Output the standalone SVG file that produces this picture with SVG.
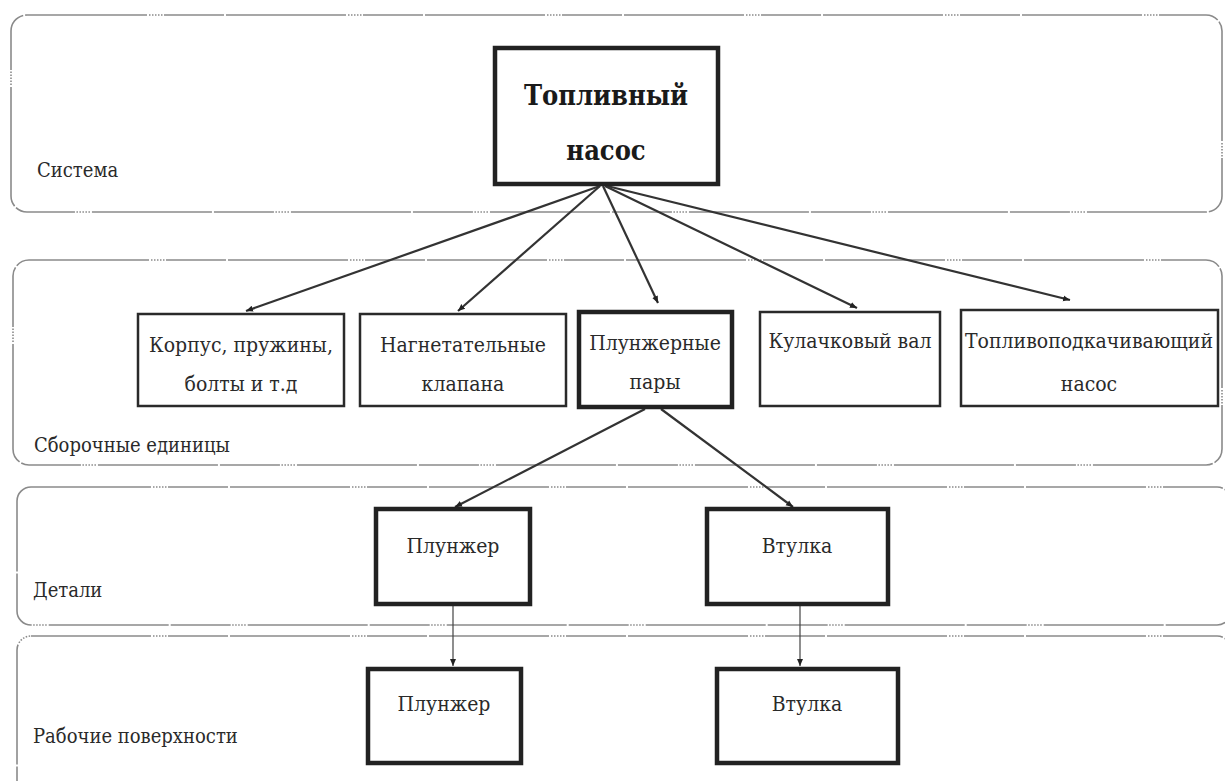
<svg xmlns="http://www.w3.org/2000/svg" width="1225" height="781" viewBox="0 0 1225 781">
<style>
.band{fill:none;stroke:#8a8a8a;stroke-width:1.6;stroke-dasharray:120 2 1.5 1.5 1.5 1.5 1.5 1.5 1.5 1.5 1.5 1.5 60 2}
.box{fill:#fff;stroke:#2a2a2a;stroke-width:2.5}
.thick{fill:#fff;stroke:#222;stroke-width:4.5}
.t{font-family:'DejaVu Serif Condensed','DejaVu Serif',serif;font-stretch:condensed;font-size:21px;fill:#2a2a2a;text-anchor:middle}
.lbl{font-family:'DejaVu Serif Condensed','DejaVu Serif',serif;font-stretch:condensed;font-size:20px;fill:#2a2a2a}
.big{font-family:'DejaVu Serif Condensed','DejaVu Serif',serif;font-stretch:condensed;font-size:27px;font-weight:bold;fill:#1a1a1a;text-anchor:middle}
.c{fill:none;stroke:#333;stroke-width:2.2}
.cs{fill:none;stroke:#444;stroke-width:1.2}
</style>
<defs>
<marker id="ah" markerWidth="8" markerHeight="8" refX="7" refY="4" orient="auto" markerUnits="userSpaceOnUse">
<path d="M0,1 L7,4 L0,7 Z" fill="#222"/>
</marker>
</defs>
<rect width="1225" height="781" fill="#fff"/>
<g id="bands">
<rect class="band" x="11" y="15" width="1211" height="197" rx="16"/>
<rect class="band" x="13" y="260" width="1209" height="205" rx="16"/>
<rect class="band" x="17" y="487" width="1214" height="138" rx="14"/>
<rect class="band" x="17" y="636" width="1214" height="160" rx="14"/>
<text class="lbl" x="37" y="177">Система</text>
<text class="lbl" x="34" y="452">Сборочные единицы</text>
<text class="lbl" x="33" y="597">Детали</text>
<text class="lbl" x="33" y="743">Рабочие  поверхности</text>
</g>
<g id="connectors">
<line class="c" x1="600" y1="186" x2="246" y2="311" marker-end="url(#ah)"/>
<line class="c" x1="600" y1="186" x2="458" y2="311" marker-end="url(#ah)"/>
<line class="c" x1="603" y1="186" x2="658" y2="303" marker-end="url(#ah)"/>
<line class="c" x1="605" y1="186" x2="857" y2="308" marker-end="url(#ah)"/>
<line class="c" x1="607" y1="186" x2="1070" y2="300" marker-end="url(#ah)"/>
<line class="c" x1="645" y1="409" x2="455" y2="507" marker-end="url(#ah)"/>
<line class="c" x1="661" y1="409" x2="793" y2="507" marker-end="url(#ah)"/>
<line class="cs" x1="453" y1="604" x2="453" y2="666" marker-end="url(#ah)"/>
<line class="cs" x1="800" y1="604" x2="800" y2="666" marker-end="url(#ah)"/>
</g>
<g id="n-top">
<rect class="thick" x="495" y="48" width="223" height="136"/>
<text class="big" x="606" y="105">Топливный</text>
<text class="big" x="606" y="160">насос</text>
</g>
<g id="n-korpus">
<rect class="box" x="138" y="314" width="206" height="92"/>
<text class="t" x="241" y="352">Корпус, пружины,</text>
<text class="t" x="241" y="391">болты и т.д</text>
</g>
<g id="n-nagn">
<rect class="box" x="360" y="314" width="206" height="92"/>
<text class="t" x="463" y="352">Нагнетательные</text>
<text class="t" x="463" y="391">клапана</text>
</g>
<g id="n-plpary">
<rect class="thick" x="579" y="312" width="153" height="95"/>
<text class="t" x="655" y="350">Плунжерные</text>
<text class="t" x="655" y="389">пары</text>
</g>
<g id="n-kulach">
<rect class="box" x="760" y="312" width="180" height="94"/>
<text class="t" x="850" y="348">Кулачковый вал</text>
</g>
<g id="n-toplpodk">
<rect class="box" x="961" y="310" width="257" height="96"/>
<text class="t" x="1089" y="348">Топливоподкачивающий</text>
<text class="t" x="1089" y="391">насос</text>
</g>
<g id="n-plunzher1">
<rect class="thick" x="376" y="509" width="154" height="95"/>
<text class="t" x="453" y="553">Плунжер</text>
</g>
<g id="n-vtulka1">
<rect class="thick" x="707" y="509" width="181" height="95"/>
<text class="t" x="797" y="553">Втулка</text>
</g>
<g id="n-plunzher2">
<rect class="thick" x="368" y="669" width="153" height="94"/>
<text class="t" x="444" y="711">Плунжер</text>
</g>
<g id="n-vtulka2">
<rect class="thick" x="717" y="669" width="181" height="94"/>
<text class="t" x="807" y="711">Втулка</text>
</g>
</svg>
